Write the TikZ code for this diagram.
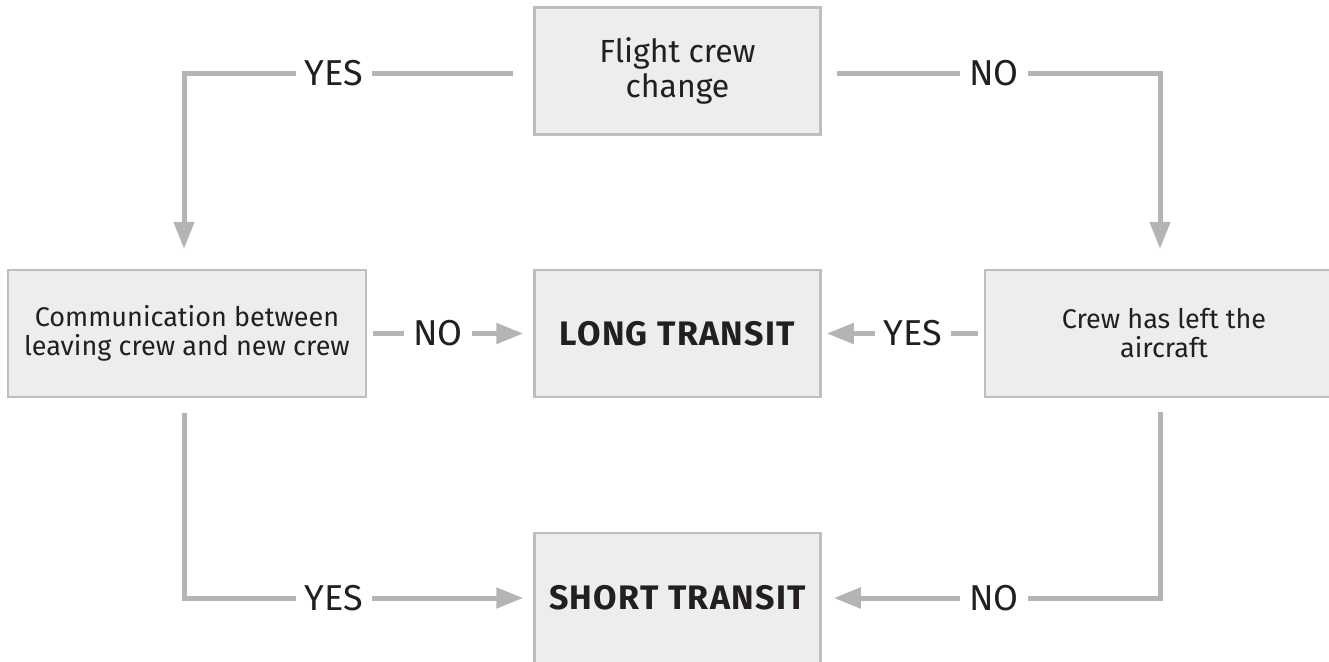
\documentclass[tikz,border=0pt]{standalone}
\usepackage{fontspec}
\setmainfont{Fira Sans}
\usetikzlibrary{arrows.meta}
\definecolor{boxfill}{HTML}{ECEDED}
\definecolor{boxline}{HTML}{BDBEBE}
\definecolor{conncol}{HTML}{B3B4B5}
\definecolor{txt}{HTML}{231F20}
\tikzset{
  box/.style={draw=boxline, line width=2.5pt, fill=boxfill, minimum width=286pt, minimum height=127pt, inner sep=0pt, align=center, text=txt},
  sidebox/.style={box, minimum width=358pt, font=\fontsize{27}{29}\selectfont},
  topbox/.style={box, font=\fontsize{32}{35}\selectfont},
  boldbox/.style={box, font=\fontsize{34}{38}\selectfont\bfseries\addfontfeatures{LetterSpace=4}},
  conn/.style={draw=conncol, line width=5pt},
  arr/.style={conn, -{Triangle[length=27pt,width=20pt]}},
  lbl/.style={fill=white, text=txt, inner xsep=9pt, inner ysep=2pt, font=\fontsize{36}{38}\selectfont}
}
\begin{document}
\begin{tikzpicture}[x=1pt, y=-1pt]
\useasboundingbox (0,0) rectangle (1329,661);
\clip (0,0) rectangle (1329,661);
\fill[white] (0,0) rectangle (1329,661);

\node[topbox] (top) at (677.5,71) {Flight crew\\change};
\node[sidebox] (left) at (187,333.5) {Communication between\\leaving crew and new crew};
\node[boldbox] (long) at (677.5,333.5) {LONG TRANSIT};
\node[sidebox] (right) at (1164,333.5) {Crew has left the\\aircraft};
\node[boldbox, minimum height=130pt] (short) at (677.5,598) {SHORT TRANSIT};

% top left: YES
\draw[arr] ([xshift=-20pt,yshift=-2pt]top.west) -| ([xshift=-3pt,yshift=20pt]left.north);
\node[lbl] (y1) at (334,73) {YES};
% top right: NO
\draw[arr] ([xshift=15pt,yshift=-2pt]top.east) -| ([xshift=-4pt,yshift=20pt]right.north);
\node[lbl] (n1) at (994,73) {NO};
% middle NO
\draw[arr] ([xshift=6pt]left.east) -- node[lbl, pos=0.43] (n2) {NO} ([xshift=-10pt]long.west);
% middle YES
\draw[arr] ([xshift=-6pt]right.west) -- node[lbl, pos=0.43] (y2) {YES} ([xshift=5pt]long.east);
% bottom left YES
\draw[arr] ([xshift=-3pt,yshift=-15pt]left.south) |- ([xshift=-10pt]short.west);
\node[lbl] (y3) at (334,598) {YES};
% bottom right NO
\draw[arr] ([xshift=-4pt,yshift=-14pt]right.south) |- ([xshift=12pt]short.east);
\node[lbl] (n3) at (994,598) {NO};
\end{tikzpicture}
\end{document}
